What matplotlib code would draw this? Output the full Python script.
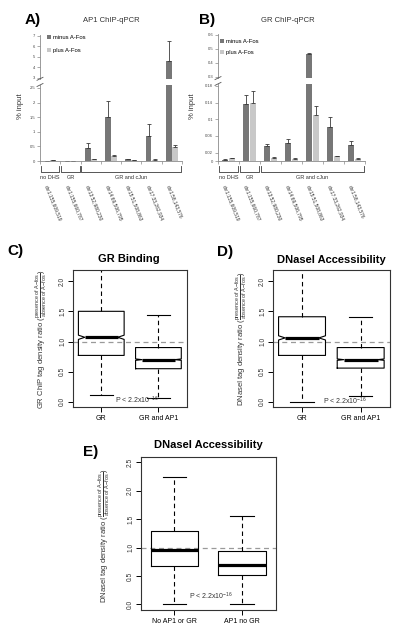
import matplotlib
matplotlib.use('agg')
import matplotlib.pyplot as plt
import matplotlib.transforms as transforms
from matplotlib.lines import Line2D
import numpy as np

plt.rcParams['font.family'] = ['Liberation Sans', 'DejaVu Sans']
plt.rcParams['mathtext.fontset'] = 'custom'
plt.rcParams['mathtext.rm'] = 'Liberation Sans'
plt.rcParams['mathtext.it'] = 'Liberation Sans:italic'
plt.rcParams['mathtext.bf'] = 'Liberation Sans:bold'

W, H = 400.0, 631.0

# qPCR loci (A, B)
loci = ['chr1:155,609,519', 'chr1:155,660,787', 'chr13:52,980,230', 'chr14:69,506,795',
        'chr15:51,508,863', 'chr17:33,262,934', 'chr1:58,143,576']
groups = ['no DHS', 'GR', 'GR and cJun']
group_first = [0, 1, 2]
group_last = [0, 1, 6]

ap1_minus = [0.01, 0.005, 0.43, 1.50, 0.06, 0.87, 4.62]
ap1_minus_err = [0.005, 0.003, 0.18, 0.56, 0.01, 0.40, 1.88]
ap1_plus = [0.02, 0.005, 0.06, 0.17, 0.02, 0.05, 0.47]
ap1_plus_err = [0.005, 0.002, 0.01, 0.02, 0.01, 0.01, 0.08]
ap1_ticks_top = [3, 4, 5, 6, 7]
ap1_ticks_bot = [0, 0.5, 1, 1.5, 2, 2.5]

gr_minus = [0.003, 0.136, 0.035, 0.043, 0.460, 0.081, 0.038]
gr_minus_err = [0.001, 0.022, 0.005, 0.010, 0.013, 0.025, 0.009]
gr_plus = [0.007, 0.140, 0.008, 0.005, 0.110, 0.011, 0.005]
gr_plus_err = [0.001, 0.028, 0.001, 0.001, 0.022, 0.001, 0.001]
gr_ticks_top = [0.3, 0.4, 0.5, 0.6]
gr_ticks_bot = [0, 0.02, 0.06, 0.1, 0.14, 0.18]

# boxplot summaries (C, D, E)
cd_names = ['GR', 'GR and AP1']
c_lo = [0.11, 0.07]
c_q1 = [0.77, 0.55]
c_med = [1.07, 0.70]
c_q3 = [1.50, 0.90]
c_hi = [2.40, 1.44]
c_ci = [0.035, 0.012]

d_lo = [0.0, 0.10]
d_q1 = [0.77, 0.56]
d_med = [1.06, 0.70]
d_q3 = [1.41, 0.90]
d_hi = [2.40, 1.41]
d_ci = [0.035, 0.012]

e_names = ['No AP1 or GR', 'AP1 no GR']
e_lo = [0.0, 0.0]
e_q1 = [0.67, 0.52]
e_med = [0.96, 0.70]
e_q3 = [1.30, 0.94]
e_hi = [2.24, 1.56]

c_minus = '#777777'
c_plus = '#c8c8c8'
axc = '#8a8a8a'


def px(x0, y0, x1, y1):
    return [x0 / W, 1 - y1 / H, (x1 - x0) / W, (y1 - y0) / H]


def fy(y):
    return 1 - y / H


def plot_qpcr(fig, xl, xr, top_px, bot_px, lim_top, lim_bot, ticks_top, ticks_bot,
              minus, minus_err, plus, plus_err, leg_xy, leg_space):
    ax_top = fig.add_axes(px(xl, top_px[0], xr, top_px[1]))
    ax_bot = fig.add_axes(px(xl, bot_px[0], xr, bot_px[1]))
    x = np.arange(len(loci))
    zero = np.zeros(len(x))
    for ax in (ax_top, ax_bot):
        ax.bar(x - 0.15, minus, 0.28, color=c_minus, label='minus A-Fos')
        ax.bar(x + 0.15, plus, 0.28, color=c_plus, label='plus A-Fos')
        ax.errorbar(x - 0.15, minus, yerr=[zero, minus_err], fmt='none', ecolor='#3a3a3a',
                    elinewidth=0.6, capsize=1.3, capthick=0.6)
        ax.errorbar(x + 0.15, plus, yerr=[zero, plus_err], fmt='none', ecolor='#3a3a3a',
                    elinewidth=0.6, capsize=1.3, capthick=0.6)
        ax.set_xlim(-0.5, len(x) - 0.5)
        ax.spines['top'].set_visible(False)
        ax.spines['right'].set_visible(False)
        ax.spines['left'].set_color(axc)
        ax.spines['left'].set_linewidth(0.6)
        ax.tick_params(axis='y', length=2, width=0.5, color=axc, labelsize=3.0, pad=1.5,
                       labelcolor='#444444')
        ax.patch.set_alpha(0)
    ax_top.set_ylim(lim_top)
    ax_bot.set_ylim(lim_bot)
    ax_top.spines['bottom'].set_visible(False)
    ax_top.set_xticks([])
    ax_top.set_yticks(ticks_top, ['%g' % t for t in ticks_top])
    ax_bot.set_yticks(ticks_bot, ['%g' % t for t in ticks_bot])
    ax_bot.spines['bottom'].set_color(axc)
    ax_bot.spines['bottom'].set_linewidth(0.6)
    ax_bot.set_xticks(np.arange(len(x) + 1) - 0.5)
    ax_bot.set_xticklabels([])
    ax_bot.tick_params(axis='x', length=2, width=0.5, color=axc)

    # axis break marks
    for yb in (top_px[1], bot_px[0]):
        fig.add_artist(Line2D([(xl - 3) / W, (xl + 3) / W], [fy(yb + 1.5), fy(yb - 1.5)],
                              color='#555555', lw=0.6))

    ax_top.legend(loc='upper left', bbox_to_anchor=(leg_xy[0] / W, fy(leg_xy[1])),
                  bbox_transform=fig.transFigure, frameon=False, fontsize=4.2,
                  handlelength=0.7, handleheight=0.7, handletextpad=0.3,
                  labelspacing=leg_space, borderaxespad=0, borderpad=0)

    tr = transforms.blended_transform_factory(ax_bot.transData, fig.transFigure)
    for name, i0, i1 in zip(groups, group_first, group_last):
        x0, x1 = i0 - 0.5 + 0.04, i1 + 0.5 - 0.04
        ax_bot.plot([x0, x0, x1, x1], [fy(166), fy(172), fy(172), fy(166)], transform=tr,
                    color='#3a3a3a', lw=0.6, clip_on=False)
        ax_bot.text((i0 + i1) / 2.0, fy(177.5), name, transform=tr, ha='center', va='center',
                    fontsize=4, color='#333333')
    for i, name in enumerate(loci):
        ax_bot.text(i - 0.2, fy(185), name, transform=tr, rotation=-68, rotation_mode='anchor',
                    ha='left', va='center', fontsize=3.5, color='#333333')
    return ax_top, ax_bot


def plot_box(fig, rect, lo, q1, med, q3, hi, ci, names, ylim, yticks, width):
    ax = fig.add_axes(rect)
    pos = [1, 2]
    notched = ci is not None
    stats = []
    for i in range(len(names)):
        stats.append(dict(med=med[i], q1=q1[i], q3=q3[i], whislo=lo[i], whishi=hi[i],
                          label=names[i]))
    ax.axhline(1.0, color='#9a9a9a', lw=0.9, ls=(0, (4, 3)), zorder=1)
    ax.bxp(stats, positions=pos, widths=width, capwidths=width * 0.5,
           showbox=not notched, showfliers=False,
           boxprops=dict(color='black', lw=0.8),
           whiskerprops=dict(color='black', lw=0.8, ls=(0, (4, 3))),
           capprops=dict(color='black', lw=0.8),
           medianprops=dict(color='black', lw=2.3, visible=not notched))
    if notched:
        # R style notch: sides step in around the median
        for i, p in enumerate(pos):
            l, r = p - width / 2.0, p + width / 2.0
            nl, nr = p - width * 0.36, p + width * 0.36
            lo_ci, hi_ci = med[i] - ci[i], med[i] + ci[i]
            ax.plot([l, r, r, nr, r, r, l, l, nl, l, l],
                    [q1[i], q1[i], lo_ci, med[i], hi_ci, q3[i], q3[i], hi_ci, med[i], lo_ci, q1[i]],
                    color='black', lw=0.8)
            ax.plot([nl, nr], [med[i], med[i]], color='black', lw=2.3, solid_capstyle='butt')
    ax.set_xlim(0.5, 2.5)
    ax.set_ylim(ylim)
    ax.set_yticks(yticks, ['%.1f' % t for t in yticks])
    ax.tick_params(axis='y', labelrotation=90, length=3.5, width=0.7, labelsize=4.8, pad=1.2,
                   labelcolor='#333333')
    ax.tick_params(axis='x', length=3.5, width=0.7, labelsize=5, pad=2.5)
    for lab in ax.get_yticklabels():
        lab.set_va('center')
    for sp in ax.spines.values():
        sp.set_linewidth(0.8)
        sp.set_color('#333333')
    return ax


if __name__ == "__main__":
    fig = plt.figure(figsize=(W / 100, H / 100), dpi=100)

    plot_qpcr(fig, 40, 182, (34.7, 78.8), (85, 161), (2.9, 7.1), (0, 2.6),
              ap1_ticks_top, ap1_ticks_bot, ap1_minus, ap1_minus_err, ap1_plus, ap1_plus_err,
              (47, 35), 1.3)
    plot_qpcr(fig, 218, 365, (33.6, 78.1), (83.9, 161), (0.29, 0.61), (0, 0.185),
              gr_ticks_top, gr_ticks_bot, gr_minus, gr_minus_err, gr_plus, gr_plus_err,
              (220, 39), 1.0)
    fig.text(111 / W, fy(21), 'AP1 ChIP-qPCR', ha='center', va='center', fontsize=5.5, color='#333333')
    fig.text(288 / W, fy(21), 'GR ChIP-qPCR', ha='center', va='center', fontsize=5.5, color='#333333')
    fig.text(20 / W, fy(106), '% input', rotation=90, ha='center', va='center', fontsize=5.5, color='#333333')
    fig.text(193 / W, fy(106), '% input', rotation=90, ha='center', va='center', fontsize=5.5, color='#333333')

    cd_lim = (-0.084, 2.184)
    cd_ticks = [0.0, 0.5, 1.0, 1.5, 2.0]
    ax_c = plot_box(fig, px(72.7, 270, 187, 407), c_lo, c_q1, c_med, c_q3, c_hi, c_ci,
                    cd_names, cd_lim, cd_ticks, 0.8)
    ax_d = plot_box(fig, px(272.7, 270, 390, 407), d_lo, d_q1, d_med, d_q3, d_hi, d_ci,
                    cd_names, cd_lim, cd_ticks, 0.8)
    ax_e = plot_box(fig, px(140.7, 456.7, 275.7, 610), e_lo, e_q1, e_med, e_q3, e_hi, None,
                    e_names, (-0.1, 2.6), [0.0, 0.5, 1.0, 1.5, 2.0, 2.5], 0.7)

    frac = r'$\frac{\mathrm{presence\ of\ A\!-\!fos}}{\mathrm{absence\ of\ A\!-\!fos}}$'
    fig.text(129 / W, fy(259), 'GR Binding', ha='center', va='center', fontsize=8, fontweight='bold')
    fig.text(331 / W, fy(260), 'DNaseI Accessibility', ha='center', va='center', fontsize=8, fontweight='bold')
    fig.text(208 / W, fy(445), 'DNaseI Accessibility', ha='center', va='center', fontsize=8, fontweight='bold')
    fig.text(41 / W, fy(339), 'GR ChIP tag density ratio (' + frac + ')', rotation=90,
             ha='center', va='center', fontsize=5.5, color='#333333')
    fig.text(241 / W, fy(339), 'DNaseI tag density ratio (' + frac + ')', rotation=90,
             ha='center', va='center', fontsize=5.5, color='#333333')
    fig.text(104 / W, fy(536), 'DNaseI tag density ratio (' + frac + ')', rotation=90,
             ha='center', va='center', fontsize=5.5, color='#333333')

    pval = r'P < 2.2x10$^{-16}$'
    fig.text(137 / W, fy(400), pval, ha='center', va='center', fontsize=5, color='#333333')
    fig.text(345 / W, fy(401), pval, ha='center', va='center', fontsize=5, color='#333333')
    fig.text(211 / W, fy(596), pval, ha='center', va='center', fontsize=5, color='#333333')

    for lab, xx, yy in [('A)', 25, 20), ('B)', 199, 20), ('C)', 7, 251), ('D)', 217, 252), ('E)', 83, 452)]:
        fig.text(xx / W, fy(yy), lab, ha='left', va='center', fontsize=11, fontweight='bold')

    plt.savefig('out.png', dpi=100)
    plt.close()
